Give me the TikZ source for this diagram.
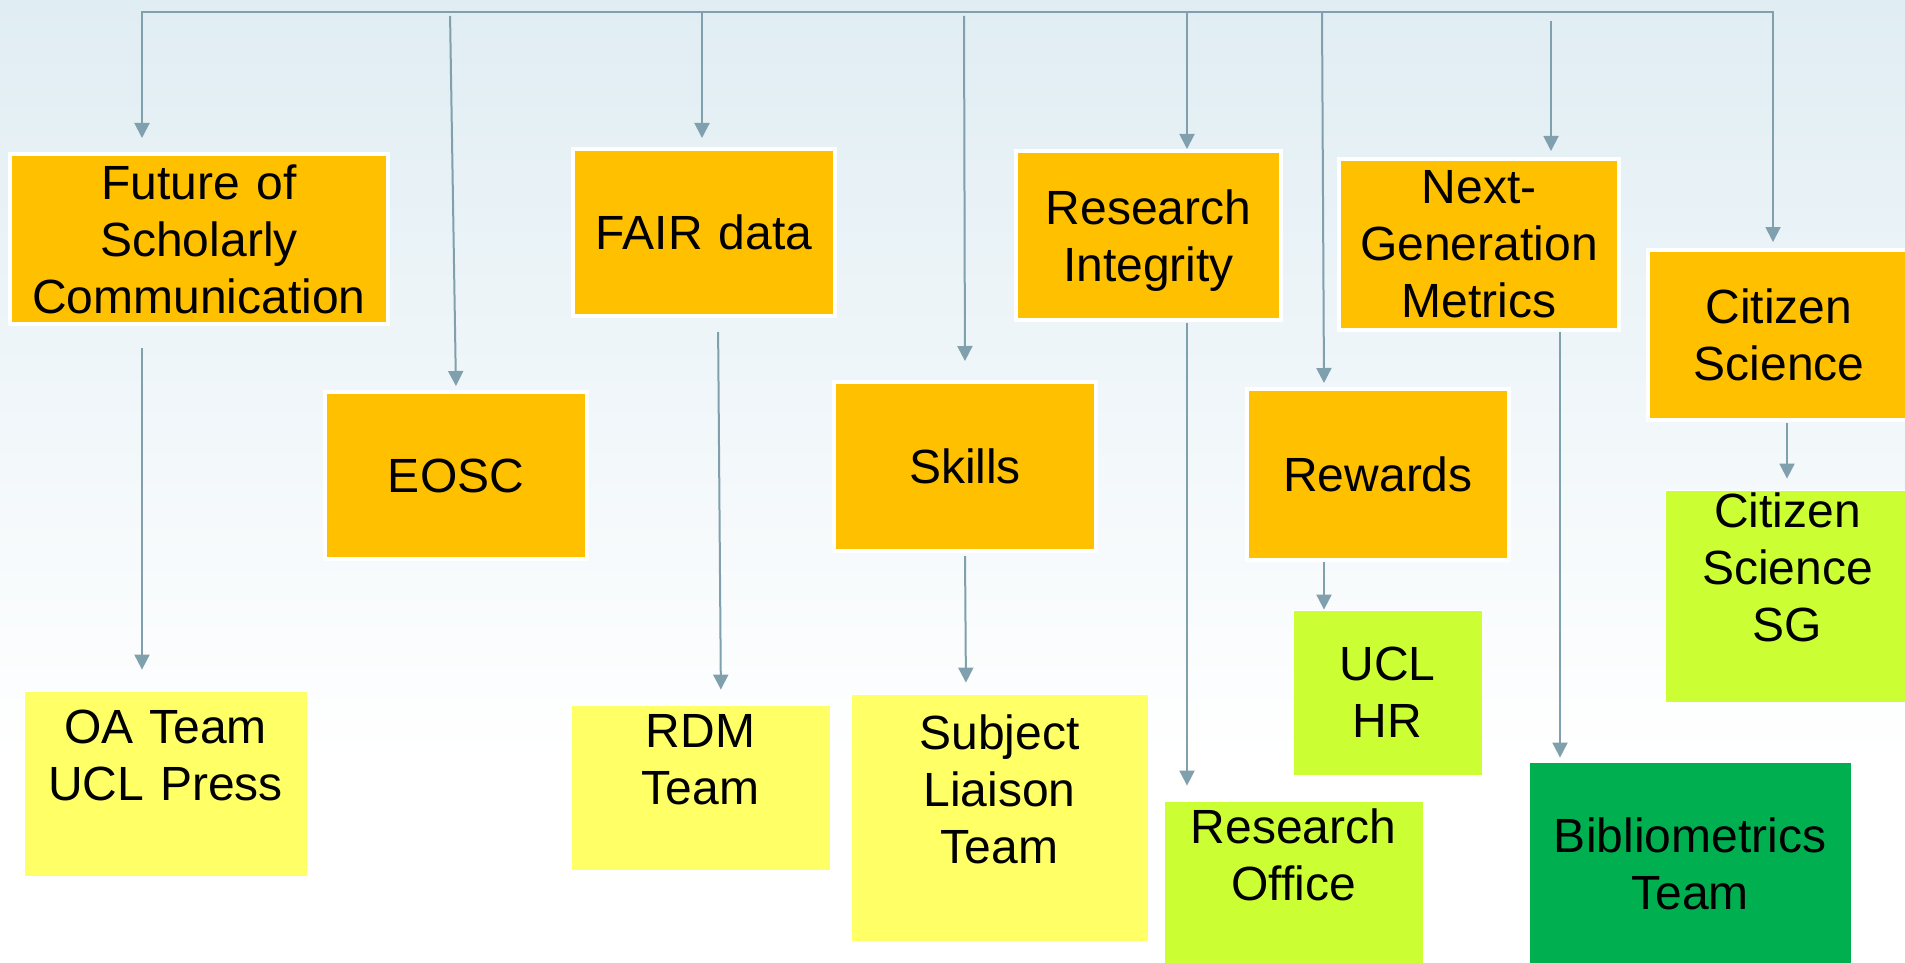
\documentclass[tikz,border=0pt]{standalone}
\usepackage{fontspec}
\setmainfont{Liberation Sans}
\usetikzlibrary{arrows.meta}
\definecolor{bgtop}{HTML}{E0EDF3}
\definecolor{topicfill}{HTML}{FFC000}
\definecolor{teamyellow}{HTML}{FFFF66}
\definecolor{teamlime}{HTML}{CCFF33}
\definecolor{teamgreen}{HTML}{00B050}
\definecolor{linkline}{HTML}{7FA0AC}
\tikzset{box/.style={rectangle, inner sep=0pt, align=center, text width=240pt,
        font=\fontsize{48}{57}\selectfont},
    topic/.style={box, fill=topicfill, draw=white, line width=4pt},
    team/.style={box, fill=#1, draw=white, line width=0.8pt},
    link/.style={draw=linkline, line width=2pt, ->,
        >={Triangle[length=15pt,width=15pt]}}}

\begin{document}
\begin{tikzpicture}[x=1pt, y=-1pt]
    \useasboundingbox (0,0) rectangle (1905,963);
    \clip (0,0) rectangle (1905,963);
    \shade[top color=bgtop, bottom color=white] (0,0) rectangle (1905,760);

    % topics
    \node[topic, minimum width=378pt, minimum height=170pt, text width=370pt] (fut) at (199,239)
      {Future of\\Scholarly\\Communication};
    \node[topic, minimum width=262pt, minimum height=167pt] (eosc) at (456,475.5) {EOSC};
    \node[topic, minimum width=262pt, minimum height=167pt] (fair) at (704,232.5) {FAIR data};
    \node[topic, minimum width=262pt, minimum height=169pt] (skills) at (965,466.5) {Skills};
    \node[topic, minimum width=265pt, minimum height=169pt] (integ) at (1148.5,235.5)
      {Research\\\raisebox{0pt}[\height][0pt]{Integrity}};
    \node[topic, minimum width=280pt, minimum height=171pt] (metrics) at (1479,244.5) {Next-\\Generation\\Metrics};
    \node[topic, minimum width=262pt, minimum height=171pt] (rewards) at (1378,474.5) {Rewards};
    \node[topic, minimum width=262pt, minimum height=170pt] (citsci) at (1779,335) {Citizen\\Science};

    % teams (an empty last line lifts the text as in the slide)
    \node[team=teamyellow, minimum width=283pt, minimum height=185pt] (oa) at (165.5,783.5) {OA Team\\UCL Press\\\mbox{}};
    \node[team=teamyellow, minimum width=259pt, minimum height=165pt] (rdm) at (700.5,787.5) {RDM\\Team\\\mbox{}};
    \node[team=teamyellow, minimum width=297pt, minimum height=247pt] (liaison) at (999.5,817.5) {Subject\\Liaison\\Team\\\mbox{}};
    \node[team=teamlime, minimum width=259pt, minimum height=164pt] (office) at (1293.5,883) {Research\\Office\\\mbox{}};
    \node[team=teamlime, minimum width=189pt, minimum height=165pt, text width=180pt] (hr) at (1387.5,692.5) {UCL\\HR};
    \node[team=teamlime, minimum width=245pt, minimum height=212pt, text width=230pt] (sg) at (1787.5,596) {Citizen\\Science\\SG\\\mbox{}};
    \node[team=teamgreen, minimum width=322pt, minimum height=203pt, text width=310pt] (biblio) at (1690,863.5) {Bibliometrics\\Team};

    % top bar
    \coordinate (barL) at (142,12);
    \coordinate (barR) at (1773,12);
    \draw[link, <->, shorten <=14pt, shorten >=6pt]
      (barL |- fut.north) -- (barL) -- (barR) -- (barR |- citsci.north);
    \foreach \xa/\xb/\n/\g/\h in {450/456/eosc/4/4, 702/702/fair/0/9, 964/965/skills/4/19,
        1187/1187/integ/0/0, 1322/1324/rewards/0/4, 1551/1551/metrics/9/6}
      \draw[link, shorten <=\g pt, shorten >=\h pt] (\xa,0 |- barL) -- (\xb,0 |- \n.north);

    % topic to team
    \foreach \xa/\xb/\p/\c/\g/\h in {142/142/fut/oa/22/21, 718/721/fair/rdm/14/15,
        965/966/skills/liaison/3/11, 1187/1187/integ/office/1/15, 1324/1324/rewards/hr/0/0,
        1560/1560/metrics/biblio/0/4, 1787/1787/citsci/sg/1/11}
      \draw[link, shorten <=\g pt, shorten >=\h pt] (\xa,0 |- \p.south) -- (\xb,0 |- \c.north);
\end{tikzpicture}
\end{document}
